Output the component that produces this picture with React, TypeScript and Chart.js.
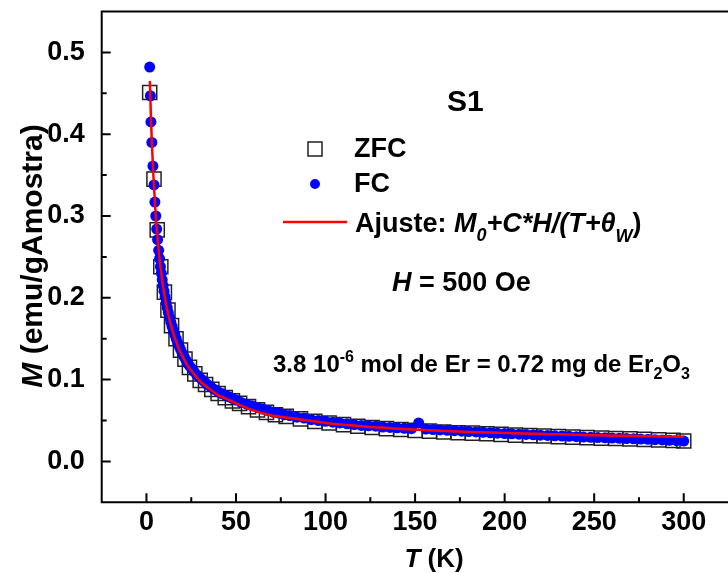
import React, { useEffect, useRef } from 'react';
import { Chart, registerables } from 'chart.js';

Chart.register(...registerables);

// ---- axis ticks ----
const X_TICKS = [0, 50, 100, 150, 200, 250, 300];
const X_MINOR = [25, 75, 125, 175, 225, 275];
const Y_TICKS = [0, 0.1, 0.2, 0.3, 0.4, 0.5];
const Y_MINOR = [0.05, 0.15, 0.25, 0.35, 0.45];

// ---- FC (blue filled circles) ----
const FC_T = [
  1.8, 2.2, 2.5, 3.0, 3.6, 4.2, 4.7, 5.2, 5.7, 6.2, 6.8, 7.3, 7.8, 8.3, 8.8, 9.3, 9.8,
  10.4, 11.0, 11.6, 12.2, 12.9, 13.6, 14.3, 15.0, 15.8, 16.6, 17.4, 18.2, 19.0, 20.0,
  21.0, 22.0, 23.0, 24.0, 25.0, 26.5, 28.0, 29.5, 31.0, 32.5, 34.0, 36.0, 38.0, 40.0,
  42.0, 44.0, 46.0, 48.0, 50.0, 53, 56, 59, 62, 65, 68, 71, 74, 77, 80, 84, 88, 92, 96,
  100, 104, 108, 112, 116, 120, 124, 128, 132, 136, 140, 144, 148, 152, 156, 160, 164,
  168, 172, 176, 180, 184, 188, 192, 196, 200, 204, 208, 212, 216, 220, 224, 228, 232,
  236, 240, 244, 248, 252, 256, 260, 264, 268, 272, 276, 280, 284, 288, 292, 296, 300,
];
const FC_M = [
  0.482, 0.447, 0.415, 0.390, 0.361, 0.338, 0.317, 0.300, 0.284, 0.271, 0.258, 0.248, 0.238,
  0.230, 0.222, 0.215, 0.208, 0.201, 0.194, 0.188, 0.182, 0.176, 0.170, 0.165, 0.160, 0.155,
  0.150, 0.145, 0.141, 0.137, 0.132, 0.128, 0.124, 0.120, 0.117, 0.114, 0.110, 0.106, 0.103,
  0.100, 0.097, 0.094, 0.091, 0.088, 0.085, 0.083, 0.081, 0.079, 0.077, 0.075, 0.072, 0.070,
  0.068, 0.066, 0.064, 0.062, 0.060, 0.059, 0.057, 0.056, 0.054, 0.053, 0.051, 0.050, 0.049,
  0.048, 0.047, 0.046, 0.045, 0.044, 0.0435, 0.043, 0.042, 0.0415, 0.041, 0.0405, 0.040,
  0.047, 0.0395, 0.039, 0.0385, 0.038, 0.0375, 0.037, 0.0365, 0.036, 0.0355, 0.035, 0.0345,
  0.034, 0.0337, 0.0333, 0.033, 0.0325, 0.032, 0.0317, 0.0313, 0.031, 0.0306, 0.0302,
  0.0298, 0.0295, 0.0292, 0.0289, 0.0286, 0.0283, 0.028, 0.0277, 0.0273, 0.027, 0.0266,
  0.0262, 0.0258, 0.0253, 0.0248,
];

// ---- ZFC (open squares) ----
const ZFC_T = [
  1.8, 4.2, 6.0, 8.0, 10.0, 12.0, 14.0, 16.5, 19.0, 21.5, 24.0, 27.0, 30.0, 33.0, 36.5, 40.0,
  44.0, 48.0, 52.0, 57.0, 62.0, 67.0, 72.0, 78.0, 86.0, 94.0, 102.0, 110.0, 118.0, 126.0,
  134.0, 142.0, 150.0, 158.0, 166.0, 174.0, 182.0, 190.0, 198.0, 206.0, 214.0, 222.0, 230.0,
  238.0, 246.0, 254.0, 262.0, 270.0, 278.0, 286.0, 294.0, 300.0,
];
const ZFC_M = [
  0.451, 0.345, 0.283, 0.238, 0.207, 0.185, 0.166, 0.150, 0.136, 0.125, 0.115, 0.107, 0.099,
  0.094, 0.088, 0.083, 0.078, 0.074, 0.071, 0.067, 0.063, 0.060, 0.057, 0.055, 0.052, 0.049,
  0.047, 0.045, 0.043, 0.0415, 0.040, 0.039, 0.038, 0.037, 0.036, 0.035, 0.0345, 0.0338,
  0.033, 0.0322, 0.0315, 0.031, 0.0303, 0.0297, 0.029, 0.0285, 0.028, 0.0275, 0.027, 0.0263,
  0.0257, 0.025,
];

// ---- Fit (red line) ----
const FIT_T = [
  1.9, 2.5, 3, 3.5, 4, 5, 6, 7, 8, 9, 10, 12, 14, 16, 18, 20, 23, 26, 30, 35, 40, 45, 50,
  60, 70, 80, 90, 100, 120, 140, 160, 180, 200, 225, 250, 275, 300,
];
const FIT_M = [
  0.465, 0.420, 0.391, 0.366, 0.344, 0.307, 0.278, 0.254, 0.235, 0.218, 0.204, 0.181, 0.164,
  0.150, 0.138, 0.129, 0.117, 0.108, 0.098, 0.089, 0.081, 0.076, 0.071, 0.062, 0.056, 0.053,
  0.050, 0.047, 0.043, 0.040, 0.0378, 0.036, 0.0347, 0.0333, 0.032, 0.031, 0.030,
];

const FONT = "'Liberation Sans', Arial, Helvetica, sans-serif";

type Seg = { t: string; size: number; italic?: boolean; dy?: number };

function drawRich(ctx: CanvasRenderingContext2D, x: number, y: number, segs: Seg[]) {
  let cx = x;
  for (const s of segs) {
    ctx.font = `${s.italic ? 'italic ' : ''}bold ${s.size}px ${FONT}`;
    ctx.fillText(s.t, cx, y + (s.dy || 0));
    cx += ctx.measureText(s.t).width;
  }
  return cx - x;
}

function richWidth(ctx: CanvasRenderingContext2D, segs: Seg[]) {
  let w = 0;
  for (const s of segs) {
    ctx.font = `${s.italic ? 'italic ' : ''}bold ${s.size}px ${FONT}`;
    w += ctx.measureText(s.t).width;
  }
  return w;
}

const decorPlugin = {
  id: 'decor',
  afterDraw(chart: any) {
    const ctx: CanvasRenderingContext2D = chart.ctx;
    const { left, right, top, bottom } = chart.chartArea;
    const xs = chart.scales.x;
    const ys = chart.scales.y;
    ctx.save();
    ctx.strokeStyle = '#000';
    ctx.lineWidth = 2;
    // frame: left, bottom, top
    ctx.beginPath();
    ctx.moveTo(right + 2, top);
    ctx.lineTo(left, top);
    ctx.lineTo(left, bottom);
    ctx.lineTo(right + 2, bottom);
    ctx.stroke();
    // ticks (inward)
    ctx.beginPath();
    for (const v of X_TICKS) {
      const p = xs.getPixelForValue(v);
      ctx.moveTo(p, bottom);
      ctx.lineTo(p, bottom - 9);
    }
    for (const v of X_MINOR) {
      const p = xs.getPixelForValue(v);
      ctx.moveTo(p, bottom);
      ctx.lineTo(p, bottom - 5);
    }
    for (const v of Y_TICKS) {
      const p = ys.getPixelForValue(v);
      ctx.moveTo(left, p);
      ctx.lineTo(left + 9, p);
    }
    for (const v of Y_MINOR) {
      const p = ys.getPixelForValue(v);
      ctx.moveTo(left, p);
      ctx.lineTo(left + 5, p);
    }
    ctx.stroke();

    ctx.fillStyle = '#000';
    ctx.textBaseline = 'alphabetic';
    ctx.textAlign = 'left';

    // x title
    const xt: Seg[] = [
      { t: 'T', size: 26, italic: true },
      { t: ' (K)', size: 26 },
    ];
    const xw = richWidth(ctx, xt);
    drawRich(ctx, 434 - xw / 2, 567, xt);

    // y title
    const yt: Seg[] = [
      { t: 'M', size: 30, italic: true },
      { t: ' (emu/gAmostra)', size: 30 },
    ];
    const yw = richWidth(ctx, yt);
    ctx.save();
    ctx.translate(42, 256);
    ctx.rotate(-Math.PI / 2);
    drawRich(ctx, -yw / 2, 0, yt);
    ctx.restore();

    // S1
    drawRich(ctx, 447, 111, [{ t: 'S1', size: 30 }]);

    // legend
    ctx.strokeStyle = '#222';
    ctx.lineWidth = 1.5;
    ctx.strokeRect(308, 142, 14, 14);
    ctx.fillStyle = '#0000ff';
    ctx.beginPath();
    ctx.arc(315, 184, 5, 0, Math.PI * 2);
    ctx.fill();
    ctx.strokeStyle = '#ff0000';
    ctx.lineWidth = 2.5;
    ctx.beginPath();
    ctx.moveTo(283, 222);
    ctx.lineTo(347, 222);
    ctx.stroke();

    ctx.fillStyle = '#000';
    drawRich(ctx, 354, 157, [{ t: 'ZFC', size: 27 }]);
    drawRich(ctx, 354, 192, [{ t: 'FC', size: 27 }]);
    drawRich(ctx, 355, 232, [
      { t: 'Ajuste: ', size: 27 },
      { t: 'M', size: 27, italic: true },
      { t: '0', size: 18, italic: true, dy: 9 },
      { t: '+C*H/(T+\u03B8', size: 27, italic: true },
      { t: 'W', size: 18, italic: true, dy: 10 },
      { t: ')', size: 27 },
    ]);

    drawRich(ctx, 392, 291, [
      { t: 'H', size: 27, italic: true },
      { t: ' = 500 Oe', size: 27 },
    ]);

    drawRich(ctx, 273, 372, [
      { t: '3.8 10', size: 24 },
      { t: '-6', size: 16, dy: -10 },
      { t: ' mol de Er = 0.72 mg de Er', size: 24 },
      { t: '2', size: 16, dy: 7 },
      { t: 'O', size: 24 },
      { t: '3', size: 16, dy: 7 },
    ]);

    ctx.restore();
  },
};

export default function App() {
  const ref = useRef<HTMLCanvasElement | null>(null);

  useEffect(() => {
    if (!ref.current) return;
    const chart = new Chart(ref.current, {
      type: 'scatter',
      data: {
        datasets: [
          {
            type: 'line',
            label: 'Ajuste',
            data: FIT_T.map((t, i) => ({ x: t, y: FIT_M[i] })),
            borderColor: '#ff0000',
            borderWidth: 2.5,
            pointRadius: 0,
            showLine: true,
            fill: false,
            cubicInterpolationMode: 'monotone',
          },
          {
            label: 'FC',
            data: FC_T.map((t, i) => ({ x: t, y: FC_M[i] })),
            backgroundColor: '#0000ff',
            borderWidth: 0,
            pointRadius: 5.5,
            pointStyle: 'circle',
          },
          {
            label: 'ZFC',
            data: ZFC_T.map((t, i) => ({ x: t, y: ZFC_M[i] })),
            backgroundColor: 'rgba(0,0,0,0)',
            borderColor: '#222',
            borderWidth: 1.5,
            pointRadius: 10,
            pointStyle: 'rect',
          },
        ],
      } as any,
      options: {
        animation: false,
        responsive: false,
        devicePixelRatio: 1,
        layout: { padding: { left: 0, top: 11, right: 1.5, bottom: 0 } },
        plugins: {
          legend: { display: false },
          tooltip: { enabled: false },
          title: { display: false },
        },
        scales: {
          x: {
            type: 'linear',
            min: -25,
            max: 325,
            grid: { display: false, drawTicks: false },
            border: { display: false },
            afterBuildTicks: (s: any) => {
              s.ticks = X_TICKS.map((v) => ({ value: v }));
            },
            afterFit: (s: any) => {
              s.height = 70.7;
              s.paddingLeft = 0;
              s.paddingRight = 0;
              s.paddingTop = 0;
              s.paddingBottom = 0;
            },
            ticks: {
              color: '#000',
              padding: 4,
              maxRotation: 0,
              font: { family: FONT, size: 27, weight: 'bold' },
              callback: (v: any) => String(v),
            },
          },
          y: {
            type: 'linear',
            min: -0.05,
            max: 0.55,
            grid: { display: false, drawTicks: false },
            border: { display: false },
            afterBuildTicks: (s: any) => {
              s.ticks = Y_TICKS.map((v) => ({ value: v }));
            },
            afterFit: (s: any) => {
              s.width = 101.7;
              s.paddingLeft = 0;
              s.paddingRight = 0;
              s.paddingTop = 0;
              s.paddingBottom = 0;
            },
            ticks: {
              color: '#000',
              padding: 17,
              font: { family: FONT, size: 27, weight: 'bold' },
              callback: (v: any) => Number(v).toFixed(1),
            },
          },
        },
      } as any,
      plugins: [decorPlugin],
    });
    return () => chart.destroy();
  }, []);

  return (
    <div
      style={{
        position: 'absolute',
        left: 0,
        top: 0,
        width: 728,
        height: 573,
        overflow: 'hidden',
        background: '#fff',
      }}
    >
      <canvas ref={ref} width={740} height={573} style={{ display: 'block', width: 740, height: 573 }} />
    </div>
  );
}
